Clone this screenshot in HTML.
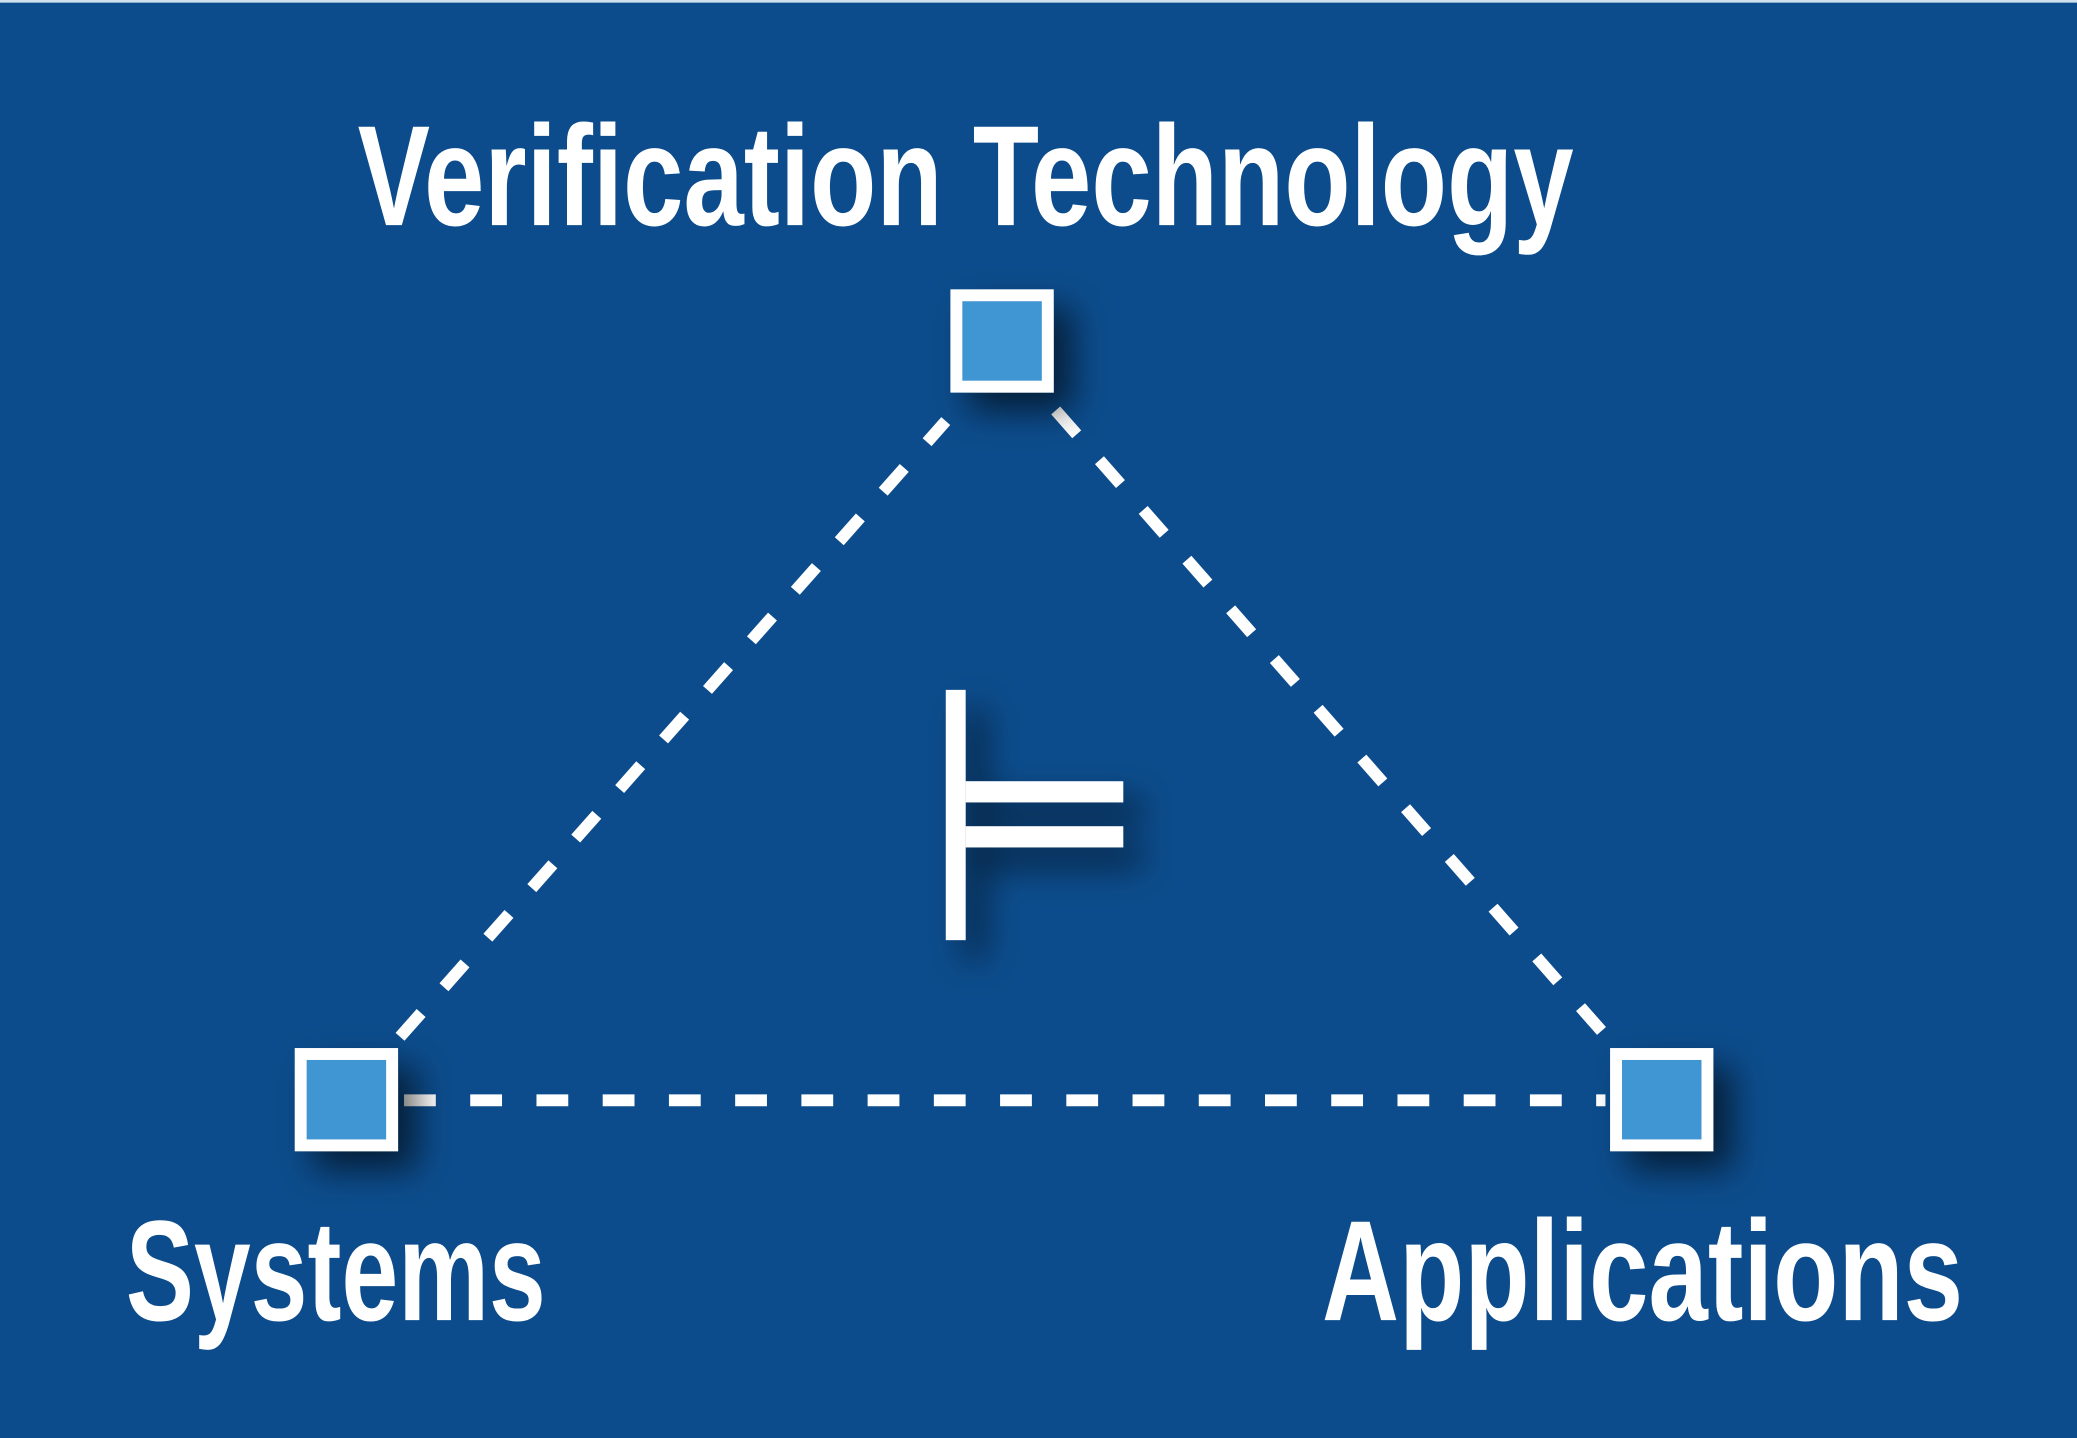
<!DOCTYPE html>
<html><head><meta charset="utf-8"><style>
html,body{margin:0;padding:0;background:#0c4c8c;}
svg{display:block;}
</style></head><body>
<svg width="2077" height="1438" viewBox="0 0 1568 1086" preserveAspectRatio="none" xmlns="http://www.w3.org/2000/svg">
<defs>
<filter id="sh" x="-60%" y="-60%" width="220%" height="220%">
<feGaussianBlur in="SourceAlpha" stdDeviation="13"/>
<feOffset dx="14" dy="14" result="b"/>
<feFlood flood-color="#000" flood-opacity="0.6"/>
<feComposite in2="b" operator="in"/>
<feMerge><feMergeNode/><feMergeNode in="SourceGraphic"/></feMerge>
</filter>
</defs>
<rect x="0" y="0" width="1568" height="1086" fill="#0c4c8c"/>
<rect x="0" y="0" width="1568" height="2" fill="#cfe0ef"/>
<g font-family="Liberation Sans, Arial, sans-serif" font-weight="bold" fill="#fff" font-size="108">
<text x="270" y="170" textLength="918" lengthAdjust="spacingAndGlyphs">Verification Technology</text>
<text x="95" y="997" textLength="317" lengthAdjust="spacingAndGlyphs">Systems</text>
<text x="998" y="997" textLength="484" lengthAdjust="spacingAndGlyphs">Applications</text>
</g>
<g stroke="#fff" stroke-width="9" stroke-dasharray="24 26" fill="none">
<line x1="302" y1="783" x2="714" y2="318"/>
<line x1="797" y1="310" x2="1212" y2="782"/>
<line x1="305" y1="831" x2="1212" y2="831"/>
</g>
<g filter="url(#sh)">
<rect x="722" y="223" width="69" height="69" fill="#3f95d3" stroke="#fff" stroke-width="9"/>
<rect x="227" y="796" width="69" height="69" fill="#3f95d3" stroke="#fff" stroke-width="9"/>
<rect x="1220" y="796" width="69" height="69" fill="#3f95d3" stroke="#fff" stroke-width="9"/>
</g>
<g filter="url(#sh)" fill="#fff">
<rect x="714" y="521" width="15" height="189"/>
<rect x="729" y="590" width="119" height="16"/>
<rect x="729" y="624" width="119" height="16"/>
</g>
</svg>
</body></html>
